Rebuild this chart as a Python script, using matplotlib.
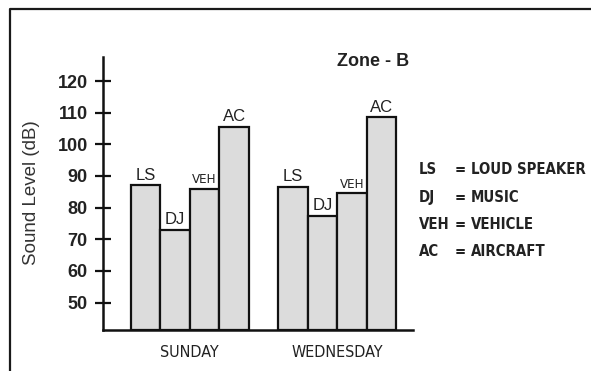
import numpy as np
import matplotlib
matplotlib.use("Agg")
import matplotlib.pyplot as plt
from matplotlib.lines import Line2D

W, H = 591, 371

# data
days = ["SUNDAY", "WEDNESDAY"]
sources = ["LS", "DJ", "VEH", "AC"]
sunday = [87, 73, 86, 105.5]
wednesday = [86.5, 77.5, 84.5, 108.5]
yticks = [50, 60, 70, 80, 90, 100, 110, 120]
legend_abbr = ["LS", "DJ", "VEH", "AC"]
legend_desc = ["LOUD SPEAKER", "MUSIC", "VEHICLE", "AIRCRAFT"]

SANS = "Liberation Sans"
# no narrow Arial here, DejaVu Sans Condensed stands in for it
NARROW = dict(family="DejaVu Sans", fontstretch="condensed")


def fx(px):
    return px / W


def fy(py):
    return 1 - py / H


fig = plt.figure(figsize=(W / 100, H / 100), dpi=100)
fig.patch.set_facecolor("white")

# outer frame (cut off at right and bottom edges)
fig.add_artist(Line2D([fx(10), fx(10), fx(595)], [fy(375), fy(8.5), fy(8.5)],
                      transform=fig.transFigure, color="#1a1a1a", lw=1.6))

ax = fig.add_axes([fx(103), fy(330), fx(413) - fx(103), fy(57) - fy(330)])
ax.set_xlim(0, 10.5)
ax.set_ylim(41.34, 127.6)

width = 1.0
starts = np.array([0.94, 5.94])
for g, vals in enumerate([sunday, wednesday]):
    xs = starts[g] + np.arange(len(vals)) * width + width / 2
    ax.bar(xs, np.array(vals) - 41.34, bottom=41.34, width=width,
           color="#dcdcdc", edgecolor="#111111", linewidth=1.6, zorder=2)
    for x, v, s in zip(xs, vals, sources):
        if s == "VEH":
            font = dict(fontsize=9.5, **NARROW)
        else:
            font = dict(fontsize=12, family=SANS)
        ax.annotate(s, (x, v), xytext=(0, 2), textcoords="offset points",
                    ha="center", va="bottom", color="#222222", **font)

for spine in ["top", "right"]:
    ax.spines[spine].set_visible(False)
for spine in ["left", "bottom"]:
    ax.spines[spine].set_linewidth(1.8)
    ax.spines[spine].set_color("#111111")

ax.set_yticks(yticks)
ax.set_yticklabels([str(t) for t in yticks], fontsize=13, fontweight="bold",
                   family=SANS, color="#222222")
ax.tick_params(axis="y", direction="inout", length=11, width=1.6, pad=5.5,
               color="#111111")
ax.set_xticks([])

# group labels under the axis
for g, day in enumerate(days):
    cx = starts[g] + 2 * width
    ax.text(cx, -0.083, day, transform=ax.get_xaxis_transform(), ha="center",
            va="center", fontsize=11.5, color="#222222", **NARROW)

fig.text(fx(32), fy(193), "Sound Level (dB)", rotation=90, ha="center",
         va="center", fontsize=13.5, family=SANS, color="#333333")

fig.text(fx(337), fy(62), "Zone - B", ha="left", va="center", fontsize=13,
         fontweight="bold", family=SANS, color="#222222")

# legend block
for i, (a, d) in enumerate(zip(legend_abbr, legend_desc)):
    y = fy(170 + i * 27.3)
    kw = dict(va="center", fontsize=10.7, fontweight="bold", color="#222222",
              **NARROW)
    fig.text(fx(419), y, a, ha="left", **kw)
    fig.text(fx(455), y, "=", ha="left", **kw)
    fig.text(fx(471), y, d, ha="left", **kw)

fig.savefig("out.png", dpi=100)
